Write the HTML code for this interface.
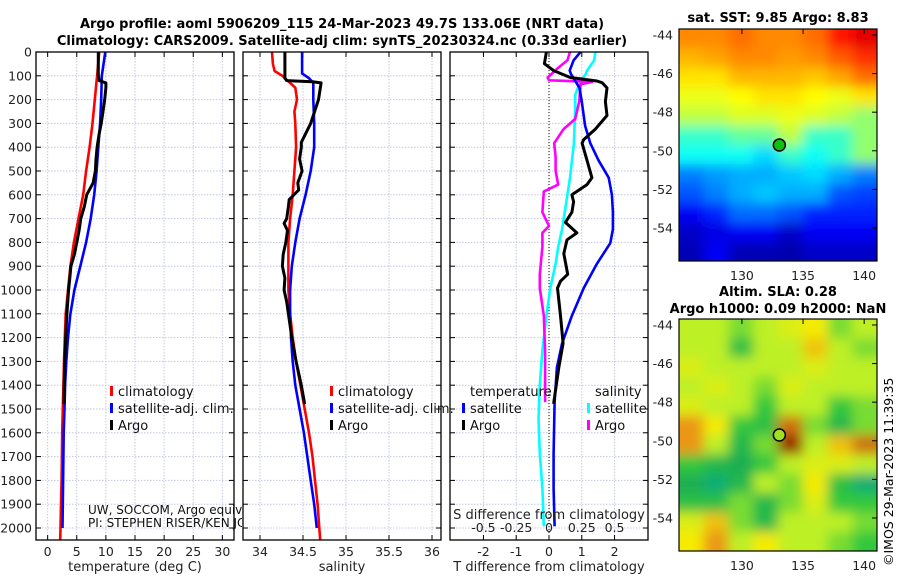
<!DOCTYPE html>
<html><head><meta charset="utf-8"><style>
body{margin:0;background:#fff}
svg{display:block;font-family:"DejaVu Sans","Liberation Sans",sans-serif}
</style></head><body>
<svg id="c" width="900" height="580" viewBox="0 0 900 580" xmlns="http://www.w3.org/2000/svg">
<defs>
<filter id="blur" x="-5%" y="-5%" width="110%" height="110%"><feGaussianBlur stdDeviation="6" edgeMode="duplicate"/></filter>
<clipPath id="clipTop"><rect x="679" y="29" width="198" height="232"/></clipPath>
<clipPath id="clipBot"><rect x="679" y="319" width="198" height="232"/></clipPath>
<clipPath id="clipFoot"><rect x="0" y="0" width="242" height="580"/></clipPath>
</defs>
<text x="342" y="28" text-anchor="middle" font-weight="bold" font-size="13">Argo profile: aoml 5906209_115 24-Mar-2023 49.7S 133.06E (NRT data)</text>
<text x="342" y="45" text-anchor="middle" font-weight="bold" font-size="13">Climatology: CARS2009. Satellite-adj clim: synTS_20230324.nc (0.33d earlier)</text>
<text x="778" y="22" text-anchor="middle" font-weight="bold" font-size="13">sat. SST: 9.85 Argo: 8.83</text>
<text x="778" y="296" text-anchor="middle" font-weight="bold" font-size="13">Altim. SLA: 0.28</text>
<text x="778" y="313" text-anchor="middle" font-weight="bold" font-size="13">Argo h1000: 0.09 h2000: NaN</text>
<text transform="translate(893,566) rotate(-90)" font-size="12.5">©IMOS 29-Mar-2023 11:39:35</text>
<g id="g"></g>
</svg>
<script>
// ---- data ----
const depthTicks = [0,100,200,300,400,500,600,700,800,900,1000,1100,1200,1300,1400,1500,1600,1700,1800,1900,2000];
const tempTicks = [0,5,10,15,20,25,30];
const salTicks = [34,34.5,35,35.5,36];
const salTickLabels = ["34","34.5","35","35.5","36"];
const tdTicks = [-2,-1,0,1,2];
const sdTicks = [-0.5,-0.25,0,0.25,0.5];
const sdTickLabels = ["-0.5","-0.25","0","0.25","0.5"];

const climTDepth = [0,100,200,300,400,500,600,700,800,900,1000,1100,1200,1300,1400,1500,1600,1700,1800,1900,2000,2050];
const climT = [8.85,8.5,8.1,7.7,7.2,6.6,6.1,5.3,4.5,3.9,3.5,3.1,2.95,2.8,2.7,2.6,2.5,2.45,2.4,2.3,2.2,2.15];
const satTDepth = [0,100,200,300,400,500,600,700,800,900,1000,1100,1200,1300,1400,1500,1600,1700,1800,1900,2000];
const satT = [9.9,9.3,9.2,9.0,8.7,8.4,8.0,7.4,6.6,5.6,4.6,3.9,3.5,3.2,3.0,2.9,2.75,2.7,2.65,2.6,2.55];
const argoTDepth = [0,50,100,120,130,150,200,250,300,350,400,450,500,550,600,650,700,750,800,850,900,950,1000,1100,1200,1300,1400,1480];
const argoT = [8.7,8.7,8.7,8.85,10.0,10.0,9.8,9.5,9.2,8.8,8.5,8.3,8.2,7.8,6.7,6.3,5.7,5.4,5.0,4.6,4.0,3.8,3.6,3.3,3.1,2.95,2.85,2.8];

const climSDepth = [0,50,80,100,150,200,250,300,400,500,600,700,800,900,1000,1100,1200,1300,1400,1500,1600,1700,1800,1900,2000,2050];
const climS = [34.14,34.15,34.17,34.26,34.41,34.43,34.40,34.41,34.42,34.40,34.38,34.35,34.33,34.33,34.33,34.35,34.38,34.42,34.47,34.52,34.57,34.61,34.64,34.67,34.69,34.70];
const satSDepth = [0,90,110,130,200,300,400,500,600,700,800,900,1000,1100,1200,1300,1400,1500,1600,1700,1800,1900,2000];
const satS = [34.49,34.49,34.57,34.62,34.62,34.63,34.63,34.59,34.53,34.46,34.41,34.37,34.35,34.35,34.36,34.38,34.41,34.46,34.51,34.55,34.59,34.63,34.66];
const argoSDepth = [0,110,120,125,130,200,300,380,400,450,500,550,580,620,650,700,720,750,800,850,900,950,1000,1050,1100,1200,1300,1400,1480];
const argoS = [34.29,34.29,34.31,34.61,34.71,34.68,34.59,34.48,34.48,34.46,34.49,34.44,34.45,34.34,34.33,34.31,34.28,34.32,34.30,34.27,34.26,34.29,34.28,34.31,34.33,34.37,34.42,34.48,34.52];

const tdSatDepth = [0,35,78,93,151,209,310,383,455,528,600,673,745,803,890,992,1108,1224,1326,1471,1688,1833,1993];
const tdSat = [0.96,0.75,0.63,0.67,0.93,1.0,1.1,1.26,1.51,1.82,1.92,1.95,1.95,1.87,1.46,1.06,0.70,0.40,0.24,0.17,0.14,0.14,0.17];
const tdArgoDepth = [0,49,78,107,122,129,151,209,267,325,368,383,455,528,557,600,629,673,716,760,789,847,934,963,992,1108,1224,1326,1478];
const tdArgo = [-0.08,-0.14,0.14,0.65,1.46,1.62,1.77,1.72,1.77,1.41,1.06,1.01,1.16,1.31,1.16,0.70,0.75,0.70,0.50,0.85,0.55,0.45,0.57,0.35,0.26,0.35,0.43,0.30,0.14];
const sdSatDepth = [0,35,78,93,136,180,238,383,528,600,745,818,890,992,1108,1253,1398,1543,1688,1833,1993];
const sdSat = [0.353,0.345,0.29,0.28,0.23,0.20,0.20,0.19,0.16,0.14,0.10,0.07,0.05,0.01,-0.02,-0.05,-0.07,-0.08,-0.07,-0.05,-0.04];
const sdArgoDepth = [0,35,71,107,119,125,136,209,281,325,383,441,499,557,586,673,731,760,818,934,992,1108,1253,1471];
const sdArgo = [0.16,0.14,0.06,-0.01,0.0,0.33,0.24,0.23,0.20,0.11,0.04,0.05,0.05,0.07,-0.04,-0.05,0.0,-0.05,-0.05,-0.07,-0.07,-0.04,-0.03,-0.03];

const latTicks = [-44,-46,-48,-50,-52,-54];
const lonTicks = [130,135,140];
const sstGrid = [
 [12.5,12.5,12.8,12.5,12.5,12.8,13.8,14.3],
 [12,12.2,12.5,12.5,12.3,12.5,13,13.5],
 [11.5,11.5,12,12,12,11.8,12.2,12.8],
 [11,11,11.2,11.5,11.5,11.2,11,11.5],
 [10.5,10.5,10.8,10.8,11,10.8,10.5,10],
 [9,9,9.5,9.5,10.5,9,9,10],
 [8.5,8.5,8.5,8,9,8.5,9,10],
 [7,7.3,7.5,7.5,7.8,8,7.5,7],
 [6.5,7,7.5,7.8,7.5,7.5,6.5,6.3],
 [5.5,6,6.8,6.8,6.5,6,6,6],
 [5,5.3,5.5,5.5,5,5.5,5.5,5.5],
 [4.8,5.5,4.8,4.8,4.7,5,5,5]];
const slaGrid = [
 [0.1,0.1,0.05,0.1,0.15,0.2,0.05,0.1],
 [0.1,0.1,-0.05,0.1,0.1,0.25,0.1,0.05],
 [0.15,0.1,0.1,0.1,0.1,0.15,0.1,0.1],
 [0.1,0.15,0.1,0.05,0.15,0.1,0.1,0.1],
 [0.15,0.1,0.1,0,0.1,0.1,0,0.05],
 [0.3,0.2,0,-0.05,0.35,0.05,-0.1,0.05],
 [0.3,0.1,-0.1,0.05,0.45,0.1,0.25,0.35],
 [0,-0.1,-0.15,0,0.1,0.15,0.15,0.1],
 [-0.15,-0.25,-0.1,0.1,0.05,0.2,-0.05,-0.25],
 [-0.05,-0.05,0.05,-0.1,0.05,0.15,0,0],
 [0.15,0.25,0.05,-0.1,0.1,0.1,0.1,0.05],
 [0.2,0.3,0.1,0.2,0.1,0.1,0.05,0]];
const argoLon = 133.06, argoLat = -49.7;

// ---- helpers ----
const NS="http://www.w3.org/2000/svg";
const G=document.getElementById('g');
function mk(tag,attrs,parent){const e=document.createElementNS(NS,tag);for(const k in attrs)e.setAttribute(k,attrs[k]);(parent||G).appendChild(e);return e;}
const TOP=52, BOT=540, DPX=0.238;
const yD=d=>TOP+d*DPX;
function lin(d0,d1,r0,r1){return v=>r0+(v-d0)*(r1-r0)/(d1-d0);}
const panels=[
 {x0:36,x1:234,sx:lin(-2,32,36,234),ticks:tempTicks,labels:tempTicks.map(String),title:"temperature (deg C)",name:"temperature"},
 {x0:243,x1:441,sx:lin(33.8023,36.1047,243,441),ticks:salTicks,labels:salTickLabels,title:"salinity",name:"salinity"},
 {x0:450,x1:648,sx:lin(-3.02,3.02,450,648),ticks:tdTicks,labels:tdTicks.map(String),title:"T difference from climatology",name:"difference"}];
const sxS=lin(-0.755,0.755,450,648);

panels.forEach((p,i)=>{
  const pg=mk('g',{});
  
  
  depthTicks.forEach(d=>{
    const l=mk('line',{x1:p.x0,x2:p.x1,y1:yD(d),y2:yD(d),stroke:'#c4c8e4','stroke-width':1,'stroke-dasharray':'1.5,1.5'},pg);
    
    
    mk('line',{x1:p.x0,x2:p.x0+5,y1:yD(d),y2:yD(d),stroke:'#000'},pg);
    mk('line',{x1:p.x1-5,x2:p.x1,y1:yD(d),y2:yD(d),stroke:'#000'},pg);
  });
  p.ticks.forEach((t,k)=>{
    const x=p.sx(t);
    const l=mk('line',{x1:x,x2:x,y1:TOP,y2:BOT,stroke:'#c4c8e4','stroke-width':1,'stroke-dasharray':'1.5,1.5'},pg);
    
    
    mk('line',{x1:x,x2:x,y1:BOT-5,y2:BOT,stroke:'#000'},pg);
    mk('line',{x1:x,x2:x,y1:TOP,y2:TOP+5,stroke:'#000'},pg);
    const tx=mk('text',{x:x,y:556,'text-anchor':'middle','font-size':12.5,fill:'#222'},pg);
    tx.textContent=p.labels[k];
    
    
  });
  const tt=mk('text',{x:(p.x0+p.x1)/2,y:571,'text-anchor':'middle','font-size':13,fill:'#222'},pg);
  tt.textContent=p.title;
  
  
});
depthTicks.forEach(d=>{
  const t=mk('text',{x:32,y:yD(d)+4.5,'text-anchor':'end','font-size':12.5,fill:'#222'});
  t.textContent=String(d);
  
  
});
const zl=mk('line',{x1:panels[2].sx(0),x2:panels[2].sx(0),y1:TOP,y2:BOT,stroke:'#333','stroke-width':1.2,'stroke-dasharray':'1,2'});



function series(depths,vals,sx,color,name,w){
  const pts=depths.map((d,i)=>sx(vals[i]).toFixed(1)+','+yD(d).toFixed(1)).join(' ');
  const e=mk('polyline',{points:pts,fill:'none',stroke:color,'stroke-width':w||2.6,'stroke-linejoin':'round'});
  
  
}
series(climTDepth,climT,panels[0].sx,'#ff0000','temp-climatology-line');
series(satTDepth,satT,panels[0].sx,'#0000ff','temp-satellite-line');
series(argoTDepth,argoT,panels[0].sx,'#000000','temp-argo-line',3);
series(climSDepth,climS,panels[1].sx,'#ff0000','sal-climatology-line');
series(satSDepth,satS,panels[1].sx,'#0000ff','sal-satellite-line');
series(argoSDepth,argoS,panels[1].sx,'#000000','sal-argo-line',3);
series(sdSatDepth,sdSat,sxS,'#00ffff','sdiff-satellite-line');
series(sdArgoDepth,sdArgo,sxS,'#ff00ff','sdiff-argo-line');
series(tdSatDepth,tdSat,panels[2].sx,'#0000ff','tdiff-satellite-line');
series(tdArgoDepth,tdArgo,panels[2].sx,'#000000','tdiff-argo-line',3);

panels.forEach(p=>{
  const r=mk('rect',{x:p.x0,y:TOP,width:p.x1-p.x0,height:BOT-TOP,fill:'none',stroke:'#000','stroke-width':1.3});
  
  
});
sdTicks.forEach((s,k)=>{
  const t=mk('text',{x:sxS(s),y:532,'text-anchor':'middle','font-size':12.5,fill:'#222'});
  t.textContent=sdTickLabels[k];
  
  
});
const st=mk('text',{x:549,y:519,'text-anchor':'middle','font-size':13,fill:'#222'});
st.textContent='S difference from climatology';



function legend(x,y,color,label,name){
  mk('rect',{x:x,y:y-10,width:3,height:10,fill:color});
  const t=mk('text',{x:x+8,y:y,'font-size':13,fill:'#111'});
  t.textContent=label;
  
  
}
legend(110,396,'#ff0000','climatology','legend-climatology');
legend(110,413,'#0000ff','satellite-adj. clim.','legend-satellite');
legend(110,430,'#000000','Argo','legend-argo');
legend(330,396,'#ff0000','climatology','legend-sal-climatology');
legend(330,413,'#0000ff','satellite-adj. clim.','legend-sal-satellite');
legend(330,430,'#000000','Argo','legend-sal-argo');
const lh1=mk('text',{x:470,y:396,'font-size':13,fill:'#111'});lh1.textContent='temperature';


const lh2=mk('text',{x:595,y:396,'font-size':13,fill:'#111'});lh2.textContent='salinity';


legend(462,413,'#0000ff','satellite','legend-tdiff-satellite');
legend(462,430,'#000000','Argo','legend-tdiff-argo');
legend(587,413,'#00ffff','satellite','legend-sdiff-satellite');
legend(587,430,'#ff00ff','Argo','legend-sdiff-argo');
const fg=mk('g',{'clip-path':'url(#clipFoot)'});
const f1=mk('text',{x:88,y:514,'font-size':12,fill:'#111'},fg);f1.textContent='UW, SOCCOM, Argo equivalent';


const f2=mk('text',{x:88,y:527,'font-size':12,fill:'#111'},fg);f2.textContent='PI: STEPHEN RISER/KEN JOHNSON';



// ---- maps ----
function jet(t){t=Math.max(0,Math.min(1,t));
  const c=v=>Math.round(255*Math.max(0,Math.min(1,v)));
  return `rgb(${c(1.5-Math.abs(4*t-3))},${c(1.5-Math.abs(4*t-2))},${c(1.5-Math.abs(4*t-1))})`;}
const slaStops=[[-0.4,[0,200,200]],[-0.2,[20,165,90]],[0,[50,200,60]],[0.1,[190,240,40]],[0.2,[245,235,0]],[0.3,[235,150,20]],[0.45,[150,30,0]]];
function slaColor(v){
  if(v<=slaStops[0][0])return 'rgb('+slaStops[0][1]+')';
  for(let i=1;i<slaStops.length;i++){if(v<=slaStops[i][0]){const a=slaStops[i-1],b=slaStops[i],f=(v-a[0])/(b[0]-a[0]);
    return 'rgb('+a[1].map((c,k)=>Math.round(c+(b[1][k]-c)*f)).join(',')+')';}}
  return 'rgb('+slaStops[slaStops.length-1][1]+')';}
const lonX=lin(124.85,141.05,679,877);
function drawMap(y0,grid,colorFn,clip,name,markerFill){
  const latY=lin(-43.69,-55.71,y0,y0+232);
  const mg=mk('g',{'clip-path':'url(#'+clip+')'});
  
  
  const bg=mk('g',{filter:'url(#blur)'},mg);
  const rows=grid.length, cols=grid[0].length, cw=198/cols, ch=232/rows;
  grid.forEach((row,r)=>row.forEach((v,c)=>{
    const x=679+c*cw-(c==0?12:0), y=y0+r*ch-(r==0?12:0);
    const w=cw+1+(c==0?12:0)+(c==cols-1?12:0), h=ch+1+(r==0?12:0)+(r==rows-1?12:0);
    const cell=mk('rect',{x:x,y:y,width:w,height:h,fill:colorFn(v)},bg);
    
    
  }));
  const m=mk('circle',{cx:lonX(argoLon),cy:latY(argoLat),r:6,fill:markerFill,stroke:'#000','stroke-width':1.5});
  
  
  const fr=mk('rect',{x:679,y:y0,width:198,height:232,fill:'none',stroke:'#000','stroke-width':1.2});
  
  
  latTicks.forEach(l=>{
    const y=latY(l);
    mk('line',{x1:872,x2:877,y1:y,y2:y,stroke:'#000'});
    const t=mk('text',{x:673,y:y+4.5,'text-anchor':'end','font-size':12.5,fill:'#222'});
    t.textContent=String(l);
    
    
  });
  lonTicks.forEach(l=>{
    const x=lonX(l);
    mk('line',{x1:x,x2:x,y1:y0,y2:y0+5,stroke:'#000'});
    const t=mk('text',{x:x,y:y0+232+19,'text-anchor':'middle','font-size':12.5,fill:'#222'});
    t.textContent=String(l);
    
    
  });
}
drawMap(29,sstGrid,v=>jet((v-4.2)/11.2),'clipTop','sst-map','#10c010');
drawMap(319,slaGrid,slaColor,'clipBot','sla-map','#a0e020');
</script>
</body></html>
